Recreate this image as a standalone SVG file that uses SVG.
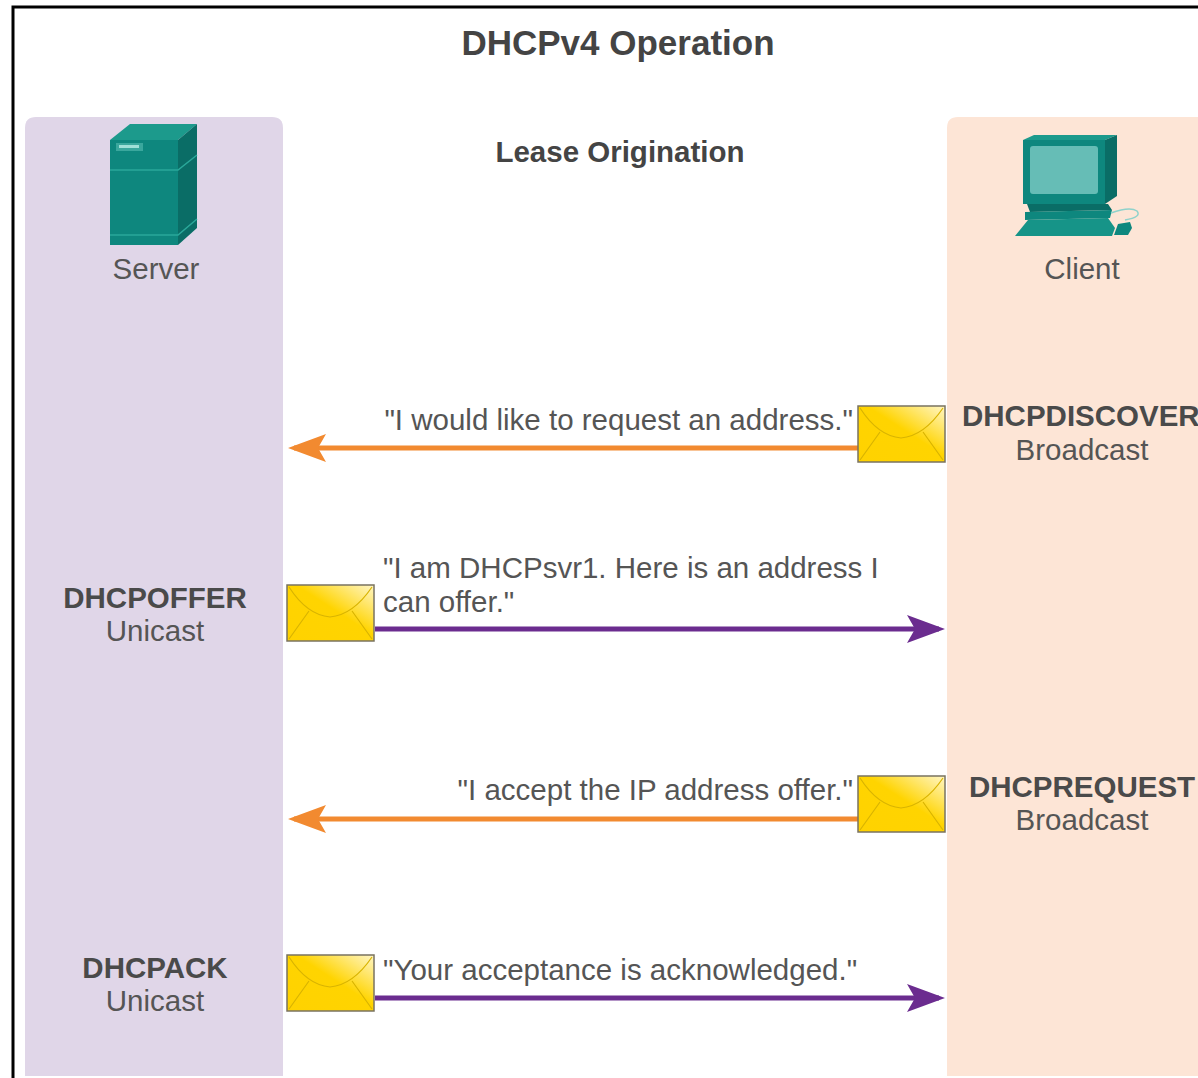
<svg xmlns="http://www.w3.org/2000/svg" width="1198" height="1078" viewBox="0 0 1198 1078">
<defs>
<style>
text{font-family:"Liberation Sans",Arial,sans-serif;fill:#4d4d4d}
.title{font-size:35px;font-weight:bold;fill:#444}
.sub{font-size:29.5px;font-weight:bold;fill:#444}
.lbl{font-size:29.5px;fill:#555}
.msg{font-size:29.5px;fill:#555}
.kind{font-size:29.5px;font-weight:bold;fill:#4a4a4a}
.orange{stroke:#f28a30;stroke-width:5;fill:none}
.purple{stroke:#6b2c8f;stroke-width:5;fill:none}
.env{stroke:#7a7360;stroke-width:1.5}
.flap{stroke:#d9b400;stroke-width:1.2;fill:none}
</style>
<linearGradient id="envg" x1="0" y1="1" x2="1" y2="0">
<stop offset="0" stop-color="#ffd200"/>
<stop offset="0.55" stop-color="#ffd400"/>
<stop offset="1" stop-color="#fff6c8"/>
</linearGradient>
<g id="envelope">
<rect x="0" y="0" width="87" height="56" fill="url(#envg)" class="env"/>
<path d="M2,2 Q20,30 43,32 Q66,30 85,2" class="flap"/>
<path d="M2,54 L22,26 M85,54 L65,26" class="flap"/>
</g>
<marker id="ahO" viewBox="0 0 40 30" refX="34" refY="15" markerWidth="40" markerHeight="30" markerUnits="userSpaceOnUse" orient="auto">
<path d="M40,15 L2,1 L10,15 L2,29 Z" fill="#f28a30"/>
</marker>
<marker id="ahP" viewBox="0 0 40 30" refX="34" refY="15" markerWidth="40" markerHeight="30" markerUnits="userSpaceOnUse" orient="auto">
<path d="M40,15 L2,1 L10,15 L2,29 Z" fill="#6b2c8f"/>
</marker>
</defs>
<rect width="1198" height="1078" fill="#ffffff"/>
<path d="M13,1078 L13,7 L1198,7" fill="none" stroke="#000" stroke-width="3"/>

<g id="title">
<text class="title" x="618" y="55" text-anchor="middle">DHCPv4 Operation</text>
<text class="sub" x="620" y="162" text-anchor="middle">Lease Origination</text>
</g>

<g id="server-lane">
<path d="M25,1076 L25,128 Q25,117 36,117 L272,117 Q283,117 283,128 L283,1076 Z" fill="#e0d6e8"/>
</g>
<g id="client-lane">
<path d="M947,1076 L947,128 Q947,117 958,117 L1198,117 L1198,1076 Z" fill="#fde5d6"/>
</g>

<g id="server">
<path d="M110,140 L130,124 L197,124 L178,140 Z" fill="#1c9a8c"/>
<path d="M178,140 L197,124 L197,228 L178,245 Z" fill="#0a6d66"/>
<rect x="110" y="140" width="68" height="105" fill="#0e877e"/>
<path d="M110,170 L178,170 L197,155" stroke="#2aa89a" stroke-width="1.5" fill="none"/>
<path d="M110,235 L178,235 L197,219" stroke="#2aa89a" stroke-width="1.5" fill="none"/>
<rect x="116" y="143" width="27" height="8" fill="#3aa79d"/>
<rect x="119" y="145" width="20" height="3" fill="#9fe0d8"/>
<text class="lbl" x="156" y="279" text-anchor="middle">Server</text>
</g>

<g id="client">
<path d="M1023,140 L1034,135 L1117,135 L1105,140 Z" fill="#1c9a8c"/>
<path d="M1105,140 L1117,135 L1117,196 L1105,204 Z" fill="#0a6d66"/>
<rect x="1023" y="140" width="82" height="64" fill="#0e877e"/>
<rect x="1030" y="146" width="68" height="48" rx="3" fill="#66bdb6"/>
<path d="M1027,204 L1108,204 L1112,210 L1030,212 Z" fill="#0a6d66"/>
<path d="M1025,212 L1112,210 L1110,218 L1025,220 Z" fill="#0e877e"/>
<path d="M1028,220 L1108,218 L1115,228 L1112,236 L1015,236 Z" fill="#169488"/>
<path d="M1111,213 Q1130,206 1137,211 Q1142,217 1125,220" stroke="#8fd2cb" stroke-width="1.5" fill="none"/>
<path d="M1118,224 L1130,222 L1132,228 L1128,235 L1114,235 Z" fill="#0e877e"/>
<text class="lbl" x="1082" y="279" text-anchor="middle">Client</text>
</g>

<g id="connectors">
<line x1="858" y1="448" x2="294" y2="448" class="orange" marker-end="url(#ahO)"/>
<line x1="375" y1="629" x2="939" y2="629" class="purple" marker-end="url(#ahP)"/>
<line x1="858" y1="819" x2="294" y2="819" class="orange" marker-end="url(#ahO)"/>
<line x1="375" y1="998" x2="939" y2="998" class="purple" marker-end="url(#ahP)"/>
</g>

<g id="msg-discover">
<use href="#envelope" x="858" y="406"/>
<text class="msg" x="853" y="430" text-anchor="end">"I would like to request an address."</text>
<text class="kind" x="962" y="426">DHCPDISCOVER</text>
<text class="lbl" x="1082" y="460" text-anchor="middle">Broadcast</text>
</g>

<g id="msg-offer">
<use href="#envelope" x="287" y="585"/>
<text class="msg" x="383" y="578">"I am DHCPsvr1. Here is an address I</text>
<text class="msg" x="383" y="612">can offer."</text>
<text class="kind" x="155" y="608" text-anchor="middle">DHCPOFFER</text>
<text class="lbl" x="155" y="641" text-anchor="middle">Unicast</text>
</g>

<g id="msg-request">
<use href="#envelope" x="858" y="776"/>
<text class="msg" x="853" y="800" text-anchor="end">"I accept the IP address offer."</text>
<text class="kind" x="1082" y="797" text-anchor="middle">DHCPREQUEST</text>
<text class="lbl" x="1082" y="830" text-anchor="middle">Broadcast</text>
</g>

<g id="msg-ack">
<use href="#envelope" x="287" y="955"/>
<text class="msg" x="383" y="980">"Your acceptance is acknowledged."</text>
<text class="kind" x="155" y="978" text-anchor="middle">DHCPACK</text>
<text class="lbl" x="155" y="1011" text-anchor="middle">Unicast</text>
</g>
</svg>
